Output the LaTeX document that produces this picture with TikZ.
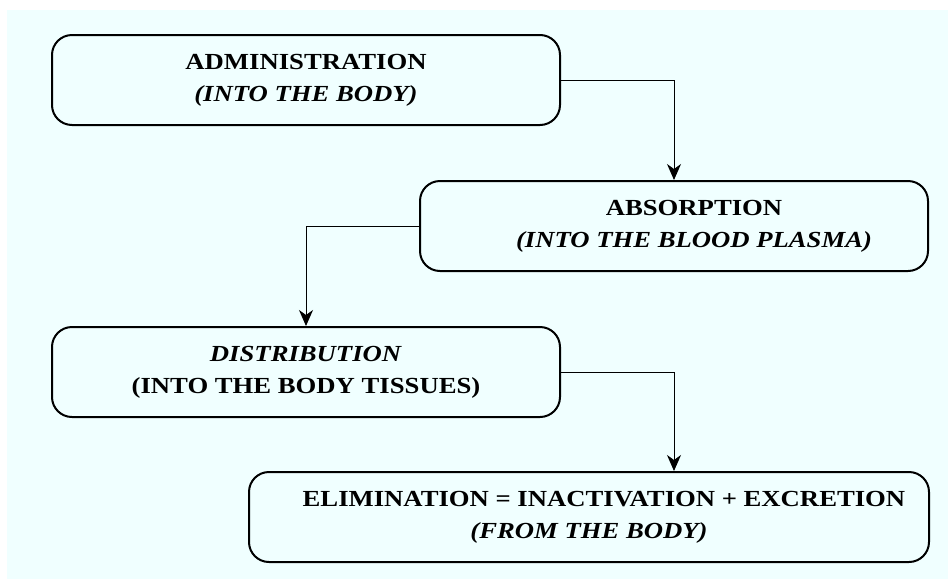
\documentclass[tikz,border=0pt]{standalone}
\usepackage{fontspec}
\setmainfont{Liberation Serif}[FakeStretch=1.16]
\usepackage{tikz}
\usetikzlibrary{positioning,arrows.meta}
\usepackage{xcolor}
\definecolor{paleazure}{RGB}{240,255,255}

\begin{document}
\begin{tikzpicture}[
    x=1pt, y=-1pt,
    stage/.style={rectangle, rounded corners=20pt, draw=black, fill=paleazure,
                  minimum width=#1, minimum height=90pt, line width=2pt,
                  align=center, font=\fontsize{23}{32}\selectfont\bfseries},
    stage/.default=508pt,
    arrow/.style={-{Stealth[length=16pt, width=14pt, inset=5pt]}, line width=1pt, draw=black}
]

\fill[white] (0,0) rectangle (948,579);
\fill[paleazure] (7,10) rectangle (948,579);
\useasboundingbox (0,0) rectangle (948,579);

\node[stage] (admin) at (306,80) {
    ADMINISTRATION\\
    \textit{(INTO THE BODY)}
};

\node[stage, below right=54pt and -142pt of admin] (absorb) {
    \hspace*{40pt}ABSORPTION\\
    \hspace*{40pt}\textit{(INTO THE BLOOD PLASMA)}
};

\node[stage, below left=54pt and -142pt of absorb] (distrib) {
    \textit{DISTRIBUTION}\\
    (INTO THE BODY TISSUES)
};

\node[stage=680pt, below right=53pt and -313pt of distrib] (elim) {
    \hspace*{30pt}ELIMINATION = INACTIVATION + EXCRETION\\
    \textit{(FROM THE BODY)}
};

\draw[arrow] (admin.east) -| (absorb.north);
\draw[arrow] (absorb.west) -| (distrib.north);
\draw[arrow] (distrib.east) -| (absorb.center |- elim.north);

\end{tikzpicture}
\end{document}
